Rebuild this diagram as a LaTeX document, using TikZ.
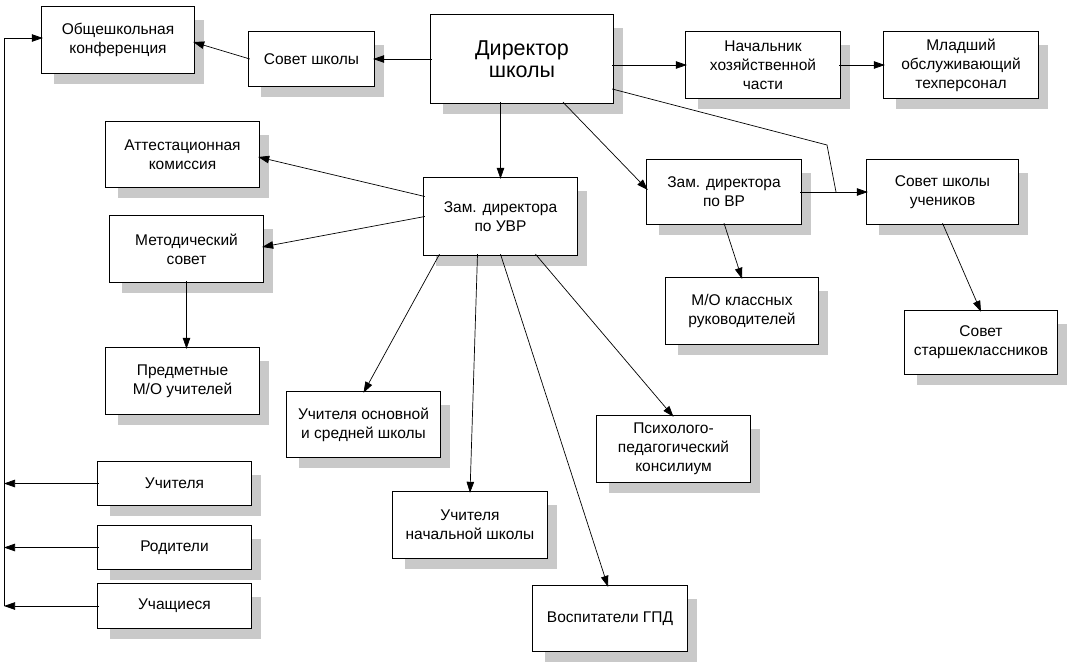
\documentclass[tikz,border=0pt]{standalone}
\usepackage{fontspec}
\setmainfont{Liberation Sans}
\usetikzlibrary{arrows.meta,calc}
\pgfdeclarelayer{background}
\pgfsetlayers{background,main}
\begin{document}
\begin{tikzpicture}[x=1pt,y=-1pt,
  box/.style={fill=white, align=center, inner sep=2pt, anchor=center,
    font=\fontsize{15.5}{19}\selectfont},
  frame/.style={draw=black, line width=0.8pt, double=white, double distance=1.5pt},
  shade/.style={fill=black!21},
  conn/.style={draw=black, line width=0.7pt},
  arr/.style={conn, -{Triangle[length=11pt,width=7.5pt]}}
]
\begin{pgfonlayer}{background}
\fill[white] (0,0) rectangle (1068,664);
\end{pgfonlayer}
\useasboundingbox (0,0) rectangle (1068,664);

% nodes
\node[box, minimum width=150pt, minimum height=64pt] (ob) at (118,40) {Общешкольная\\конференция};
\node[box, minimum width=123pt, minimum height=52pt] (ss) at (311.5,59) {Совет школы};
\node[box, minimum width=180pt, minimum height=86pt, font=\fontsize{21.5}{21.5}\selectfont] (dir) at (522,59) {Директор\\школы};
\node[box, minimum width=152pt, minimum height=64pt] (nach) at (763,65) {Начальник\\хозяйственной\\части};
\node[box, minimum width=152pt, minimum height=64pt] (ml) at (961,65) {Младший\\обслуживающий\\техперсонал};
\node[box, minimum width=151pt, minimum height=63pt] (att) at (182.5,154.5) {Аттестационная\\комиссия};
\node[box, minimum width=151pt, minimum height=64pt] (met) at (186.5,249) {Методический\\совет};
\node[box, minimum width=151pt, minimum height=64pt] (pred) at (182.5,381) {Предметные\\М/О учителей};
\node[box, minimum width=151pt, minimum height=75pt] (uvr) at (500.5,216.5) {Зам. директора\\по УВР};
\node[box, minimum width=152pt, minimum height=62pt] (vr) at (724,192) {Зам. директора\\по ВР};
\node[box, minimum width=149pt, minimum height=62pt] (su) at (942.5,192) {Совет школы\\учеников};
\node[box, minimum width=150pt, minimum height=64pt] (mokl) at (742,311) {М/О классных\\руководителей};
\node[box, minimum width=150pt, minimum height=61pt] (st) at (981,342.5) {Совет\\старшеклассников};
\node[box, minimum width=151pt, minimum height=63pt] (osn) at (363.5,424.5) {Учителя основной\\и средней школы};
\node[box, minimum width=152pt, minimum height=64pt] (nsh) at (470,525) {Учителя\\начальной школы};
\node[box, minimum width=152pt, minimum height=63pt] (gpd) at (610,618.5) {Воспитатели ГПД};
\node[box, minimum width=151pt, minimum height=64pt] (psy) at (673.5,449) {Психолого-\\педагогический\\консилиум};
\node[box, minimum width=151pt, minimum height=41pt] (uch) at (174.5,483.5) {Учителя};
\node[box, minimum width=151pt, minimum height=41pt] (rod) at (174.5,547.5) {Родители};
\node[box, minimum width=151pt, minimum height=42pt] (uca) at (174.5,606) {Учащиеся};

% shadows and double frames
\begin{pgfonlayer}{background}
\foreach \n in {ob,ss,dir,nach,ml,att,met,pred,uvr,vr,su,mokl,st,osn,nsh,gpd,psy,uch,rod,uca}
  \fill[shade] ($(\n.north west)+(11,12)$) rectangle ($(\n.south east)+(11,12)$);
\end{pgfonlayer}
\foreach \n in {ob,ss,dir,nach,ml,att,met,pred,uvr,vr,su,mokl,st,osn,nsh,gpd,psy,uch,rod,uca}
  \draw[frame] (\n.north west) rectangle (\n.south east);

% helper coordinates
\coordinate (j1) at (827,145);
\coordinate (j2) at (836,192);
\coordinate (bt) at (4,38);
\coordinate (b1) at (4,483.5);
\coordinate (b2) at (4,547.5);
\coordinate (b3) at (4,606);

% connectors
\draw[arr] (dir.west) -- (ss.east);
\draw[arr] (ss.west) -- ($(ob.east)+(0,2)$);
\draw[arr] (dir.east |- nach.west) -- (nach.west);
\draw[arr] (nach.east) -- (ml.west);
\draw[conn] ($(dir.east)+(0,30)$) -- (j1) -- (j2);
\draw[arr] (vr.east) -- (su.west);
\draw[arr] (uvr.north |- dir.south) -- (uvr.north);
\draw[arr] ($(dir.south)+(41,0)$) -- ($(vr.west)+(0,-2)$);
\draw[arr] (vr.south) -- (mokl.north);
\draw[arr] (su.south) -- (st.north);
\draw[arr] ($(uvr.west)+(0,-20)$) -- ($(att.east)+(0,2.5)$);
\draw[arr] (uvr.west) -- ($(met.east)+(0,-2)$);
\draw[arr] (met.south) -- (met.south |- pred.north);
\draw[arr] ($(uvr.south)+(-61,0)$) -- (osn.north);
\draw[arr] ($(uvr.south)+(-23,0)$) -- (nsh.north);
\draw[arr] (uvr.south) -- ($(gpd.north)+(-2,0)$);
\draw[arr] ($(uvr.south)+(35,0)$) -- (psy.north);
\draw[arr] (uch.west) -- (b1);
\draw[arr] (rod.west) -- (b2);
\draw[arr] (uca.west) -- (b3);
\draw[arr] (b3) -- (bt) -- (ob.west |- bt);
\end{tikzpicture}
\end{document}
